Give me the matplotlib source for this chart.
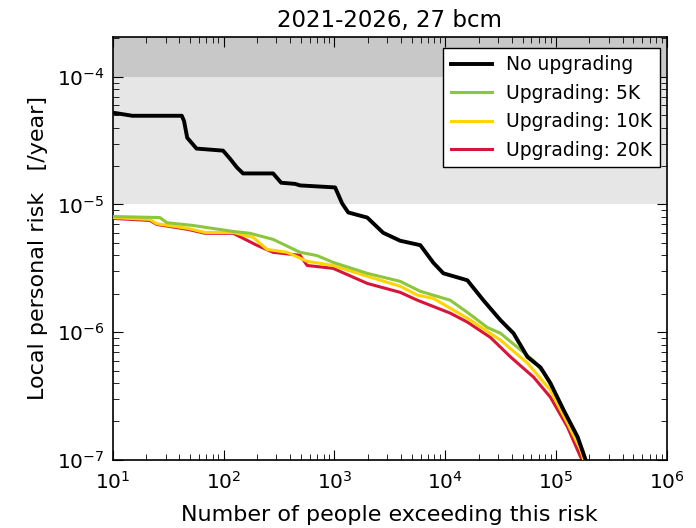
import matplotlib
matplotlib.use("Agg")
import matplotlib.pyplot as plt
import numpy as np

# Data (people exceeding risk, risk per year)
x_none = [10, 15, 42, 44, 47, 57, 99, 114, 132, 150, 280, 331, 442, 490, 1016, 1175, 1334,
          1980, 2760, 3930, 5970, 7820, 9640, 15850, 22100, 31600, 41400, 55300, 72500,
          89000, 117000, 157000, 185000]
y_none = [5.24e-5, 4.95e-5, 4.95e-5, 4.5e-5, 3.33e-5, 2.74e-5, 2.64e-5, 2.29e-5, 1.95e-5,
          1.75e-5, 1.75e-5, 1.48e-5, 1.45e-5, 1.41e-5, 1.36e-5, 1.02e-5, 8.66e-6,
          7.9e-6, 6.0e-6, 5.2e-6, 4.8e-6, 3.5e-6, 2.89e-6, 2.55e-6, 1.78e-6, 1.24e-6,
          9.8e-7, 6.4e-7, 5.3e-7, 4.0e-7, 2.46e-7, 1.51e-7, 1.0e-7]

x_5k = [10, 26.6, 30.8, 53, 122, 173, 280, 490, 698, 975, 1980, 3930, 5970, 11100, 15850,
        24000, 31600, 45000, 62700, 77300, 103000, 135000, 174000, 185000]
y_5k = [8.05e-6, 7.9e-6, 7.2e-6, 6.85e-6, 6.15e-6, 5.95e-6, 5.33e-6, 4.22e-6, 3.98e-6,
        3.52e-6, 2.89e-6, 2.5e-6, 2.09e-6, 1.78e-6, 1.43e-6, 1.09e-6, 9.8e-7, 7.6e-7,
        6.0e-7, 4.8e-7, 3.1e-7, 1.94e-7, 1.2e-7, 1.0e-7]

x_10k = [10, 21.6, 25, 47.6, 68, 122, 185, 247, 374, 568, 975, 1980, 3930, 5610, 7820,
         15850, 31600, 55300, 89000, 127000, 167000, 178000]
y_10k = [7.9e-6, 7.64e-6, 7.07e-6, 6.5e-6, 6.04e-6, 6.04e-6, 5.52e-6, 4.45e-6, 4.22e-6,
         3.59e-6, 3.33e-6, 2.74e-6, 2.29e-6, 1.95e-6, 1.84e-6, 1.29e-6, 8.66e-7, 5.73e-7,
         3.52e-7, 1.94e-7, 1.2e-7, 1.0e-7]

x_20k = [10, 21.6, 25, 47.6, 68, 122, 200, 280, 490, 568, 975, 1980, 3930, 5610, 11100,
         15850, 25600, 38900, 62700, 89000, 127000, 167000, 174000]
y_20k = [7.78e-6, 7.5e-6, 6.98e-6, 6.38e-6, 5.95e-6, 5.95e-6, 4.79e-6, 4.22e-6, 4.0e-6,
         3.33e-6, 3.16e-6, 2.41e-6, 2.05e-6, 1.78e-6, 1.41e-6, 1.2e-6, 9.1e-7, 6.4e-7,
         4.45e-7, 3.1e-7, 1.81e-7, 1.05e-7, 1.0e-7]

labels = ["No upgrading", "Upgrading: 5K", "Upgrading: 10K", "Upgrading: 20K"]
colors = ["#000000", "#8cc63f", "#ffd400", "#d7153a"]

fig = plt.figure(figsize=(6.96, 5.28), dpi=100)
ax = fig.add_axes([0.162, 0.129, 0.796, 0.801])
ax.set_xscale("log")
ax.set_yscale("log")
ax.set_xlim(10, 1e6)
ax.set_ylim(1e-7, 2.05e-4)

ax.axhspan(1e-4, 1e-3, color="#c8c8c8", zorder=0, lw=0)
ax.axhspan(1e-5, 1e-4, color="#e6e6e6", zorder=0, lw=0)

ax.plot(x_20k, y_20k, color=colors[3], lw=2.2, label=labels[3], zorder=2)
ax.plot(x_10k, y_10k, color=colors[2], lw=2.2, label=labels[2], zorder=3)
ax.plot(x_5k, y_5k, color=colors[1], lw=2.2, label=labels[1], zorder=4)
ax.plot(x_none, y_none, color=colors[0], lw=2.8, label=labels[0], zorder=5)

handles, labs = ax.get_legend_handles_labels()
order = [3, 2, 1, 0]
leg = ax.legend([handles[i] for i in order], [labs[i] for i in order],
                loc="upper right", bbox_to_anchor=(0.987, 0.974), borderaxespad=0,
                fontsize=13.5, fancybox=False, framealpha=1,
                edgecolor="black", handlelength=2.2, handletextpad=0.75,
                borderpad=0.4, labelspacing=0.5)
leg.get_frame().set_linewidth(1.0)

ax.tick_params(which="both", direction="in", top=True, right=True, labelsize=14.5)
ax.tick_params(axis="x", which="major", pad=8)
ax.tick_params(axis="y", which="major", pad=6)
ax.tick_params(which="major", length=7)
ax.tick_params(which="minor", length=4)
for s in ax.spines.values():
    s.set_linewidth(1.2)

ax.set_title("2021-2026, 27 bcm", fontsize=16.5, pad=7)
ax.set_xlabel("Number of people exceeding this risk", fontsize=16, labelpad=9)
ax.set_ylabel("Local personal risk   [/year]", fontsize=16, labelpad=6)

fig.savefig("out.png", dpi=100)
